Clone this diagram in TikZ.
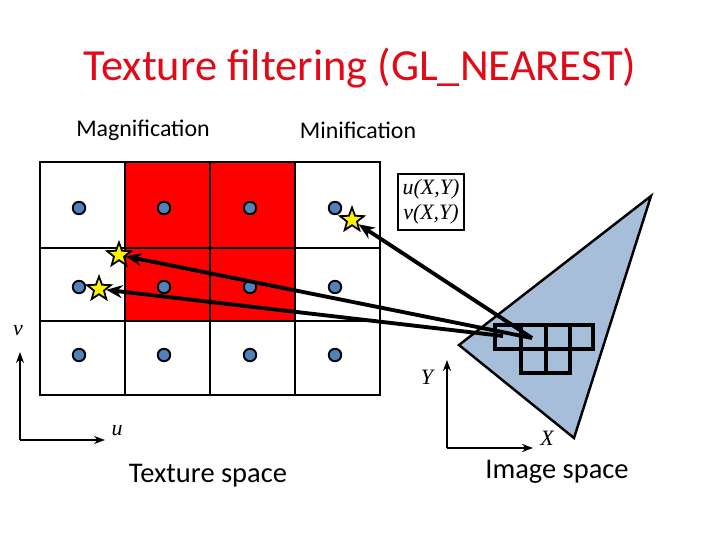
\documentclass[tikz,border=0pt]{standalone}
\usepackage{fontspec}
\setmainfont{Carlito}
\newfontfamily\tmsfont{Liberation Serif}
\usetikzlibrary{shapes.geometric,arrows.meta}
\definecolor{texelblue}{RGB}{79,129,189}
\definecolor{triblue}{RGB}{167,190,219}
\definecolor{titlered}{RGB}{226,10,22}
\begin{document}
\begin{tikzpicture}[x=0.02cm, y=-0.02cm,
    cell/.style={draw, line width=1.4pt},
    texel/.style={circle, draw, line width=1.1pt, fill=texelblue, inner sep=0pt, minimum size=0.25cm},
    sample/.style={star, star points=5, star point ratio=2.4, draw, line width=1pt, fill=yellow, inner sep=0pt, minimum size=0.5cm},
    arrow/.style={-{Stealth[length=0.32cm, width=0.26cm]}, line width=2.2pt},
    axis/.style={-{Stealth[length=0.22cm, width=0.16cm]}, line width=1.4pt},
    lbl/.style={font=\tmsfont\itshape\fontsize{12.5}{14}\selectfont},
    heading/.style={font=\fontsize{13.6}{16}\selectfont},
    caption/.style={font=\fontsize{16.2}{19}\selectfont}
]
    \useasboundingbox (0,0) rectangle (720,540);

    \node[font=\fontsize{25.3}{30}\selectfont, text=titlered] (title) at (360,68) {Texture filtering (GL\_NEAREST)};
    \node[heading] (mag) at (143,130) {Magnification};
    \node[heading] (min) at (358,130) {Minification};

    % texture grid
    \fill[red] (125,162) rectangle (295,321);
    \draw[cell] (40,162) rectangle (380,395);
    \foreach \x in {125,210,295} \draw[cell] (\x,162) -- (\x,395);
    \foreach \y in {248,321} \draw[cell] (40,\y) -- (380,\y);
    \foreach \x/\c in {79/1,164/2,250/3,335/4}
        \foreach \y/\r in {208/1,287/2,355/3}
            \node[texel] (t\r\c) at (\x,\y) {};

    % image space
    \filldraw[fill=triblue, line width=1.4pt] (459,345) -- (651,196) -- (574,438) -- cycle;
    \draw[line width=2pt] (495,325) rectangle (593,349);
    \foreach \x in {521,546,570} \draw[line width=2pt] (\x,325) -- (\x,349);
    \draw[line width=2pt] (521,349) rectangle (570,373);
    \draw[line width=2pt] (546,349) -- (546,373);

    \node[draw, line width=1.1pt, lbl, align=center, minimum width=1.32cm, minimum height=1.12cm, inner sep=1pt] (uv) at (431,202) {u(X,Y)\\v(X,Y)};

    \node[sample] (s1) at (352,220) {};
    \node[sample] (s2) at (119,255) {};
    \node[sample] (s3) at (99,289) {};
    \coordinate (p1) at (532,338);
    \coordinate (p2) at (503,336);

    \draw[arrow] (p1) -- (s1);
    \draw[arrow] (p1) -- (s2);
    \draw[arrow] (p2) -- (s3);

    % axes
    \coordinate (o1) at (20,440);
    \coordinate (v1) at (20,352);
    \coordinate (u1) at (105,440);
    \draw[axis] (o1) -- (v1);
    \draw[axis] (o1) -- (u1);
    \node[lbl] (vlab) at (18,331) {v};
    \node[lbl] (ulab) at (117,431) {u};

    \coordinate (o2) at (447,448);
    \coordinate (y2) at (447,360);
    \coordinate (x2) at (533,448);
    \draw[axis] (o2) -- (y2);
    \draw[axis] (o2) -- (x2);
    \node[lbl] (ylab) at (427,377) {Y};
    \node[lbl] (xlab) at (547,438) {X};

    \node[caption] (tex) at (208,476) {Texture space};
    \node[caption] (img) at (557,472) {Image space};
\end{tikzpicture}
\end{document}
